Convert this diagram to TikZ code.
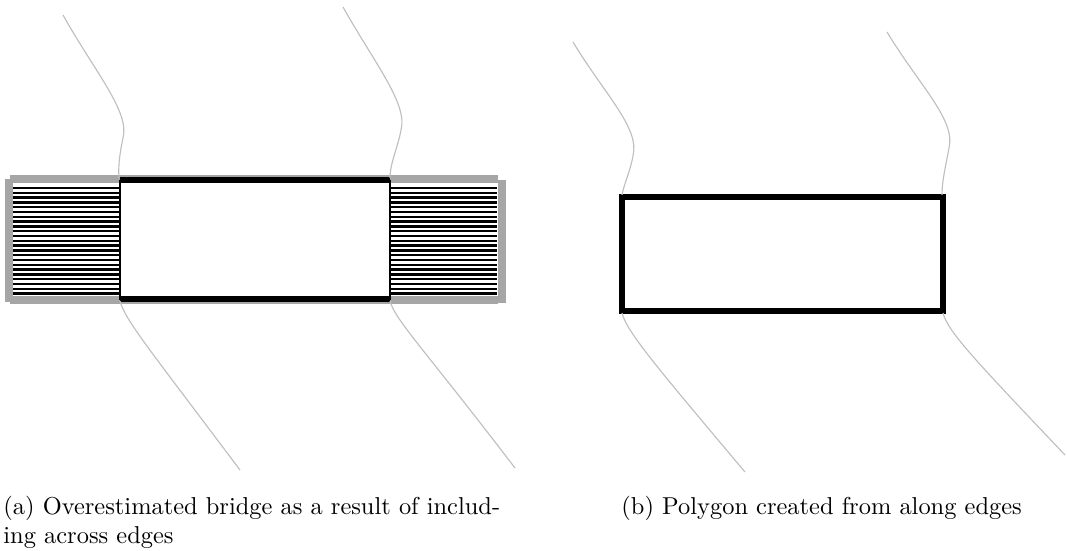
\documentclass[tikz,border=0pt]{standalone}
\usepackage{tikz}
\usetikzlibrary{positioning}

\begin{document}
\begin{tikzpicture}[x=0.44pt, y=-0.44pt,
  road/.style={black!25, line width=0.5pt},
  edge/.style={black, line width=2.8pt},
  over/.style={black!35, line width=3.4pt},
  stripe/.style={black, line width=1.1pt},
  caption/.style={anchor=north west, inner sep=0pt, align=left, font=\fontsize{10.75}{12.6}\selectfont}]

\useasboundingbox (0,0) rectangle (1067,550);

\draw[over] (10,179) -- (498,179);
\draw[over] (10,300) -- (498,300);
\draw[over] (9,179) -- (9,302);
\draw[over] (502,180) -- (502,303);
\fill[white] (13,183) rectangle (498,296);

\foreach \i in {0,...,22}
{
\draw[stripe] (13, 188+4.8*\i) -- (120, 188+4.8*\i);
\draw[stripe] (390, 188+4.8*\i) -- (497, 188+4.8*\i);
}

\draw[black, line width=0.7pt] (120,180) -- (120,300);
\draw[black, line width=0.7pt] (390,180) -- (390,300);
\draw[edge] (120,180) -- (390,180);
\draw[edge] (120,299) -- (390,299);

\draw[road] (63,15) .. controls (95,72) and (130,112) .. (123,138) .. controls (120,152) and (118,166) .. (119,178);
\draw[road] (120,301) .. controls (125,320) and (150,350) .. (240,470);
\draw[road] (343,7) .. controls (375,64) and (408,104) .. (401,130) .. controls (398,147) and (390,163) .. (390,178);
\draw[road] (390,301) .. controls (395,320) and (425,350) .. (515,468);

\draw[black, line width=2.8pt, line join=miter] (622,197) rectangle (943,311);

\draw[road] (573,42) .. controls (605,95) and (640,128) .. (633,156) .. controls (630,172) and (624,184) .. (622,195);
\draw[road] (622,313) .. controls (627,332) and (655,365) .. (745,472);
\draw[road] (887,32) .. controls (919,85) and (956,120) .. (949,148) .. controls (946,165) and (942,180) .. (942,195);
\draw[road] (943,313) .. controls (948,332) and (975,360) .. (1065,455);

\node[caption] (capa) at (3,496) {(a) Overestimated bridge as a result of includ-\\ing across edges};
\node[caption] (capb) at (621,496) {(b) Polygon created from along edges};

\end{tikzpicture}
\end{document}
